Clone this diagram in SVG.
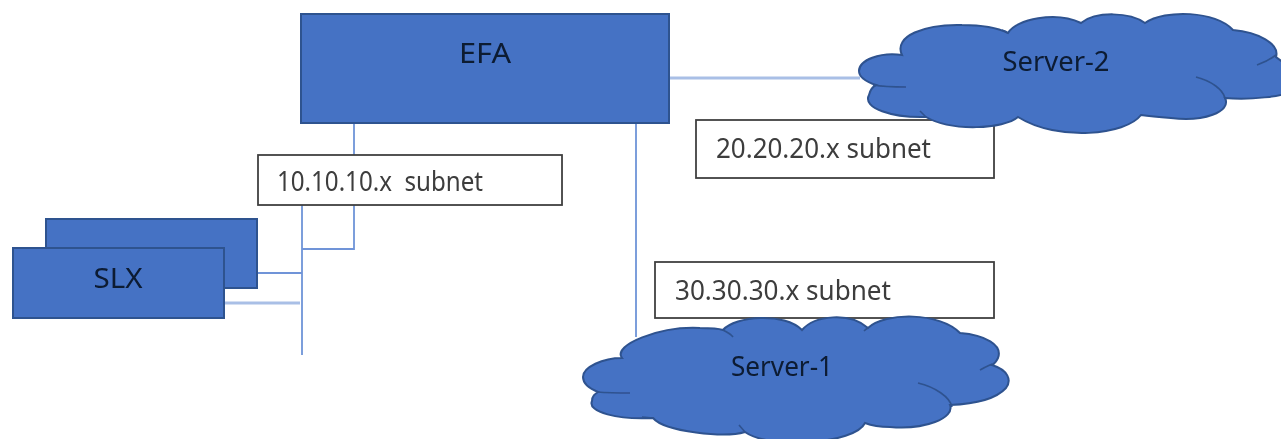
<svg xmlns="http://www.w3.org/2000/svg" width="1281" height="439" viewBox="0 0 1281 439">
<defs><filter id="soft" x="-2%" y="-2%" width="104%" height="104%"><feGaussianBlur stdDeviation="0.55"/></filter></defs>
<style>
.n{fill:#4472c4;stroke:#2f528f;stroke-width:2}
.b{fill:#fff;stroke:#404040;stroke-width:1.8}
.c{fill:none;stroke:#2f528f;stroke-width:1.6}
.w{fill:none;stroke:#6f94d8;stroke-width:1.8}
.p{fill:none;stroke:#a9bfe6;stroke-width:3}
text{font-family:"Noto Sans","Open Sans",sans-serif;font-size:27px}
.l{fill:#3c3c3c}
.t{fill:#0c1a33}
</style>
<rect width="1281" height="439" fill="#fff"/>
<g filter="url(#soft)">
<g id="connectors">
<path class="w" d="M354 123V155M354 205V249H302M302 205V355M258 273H302M636 123V337"/>
<path class="p" d="M225 303H300M670 78H860"/>
</g>
<g id="efa"><rect class="n" x="301" y="14" width="368" height="109"/><text class="t" x="485" y="63" text-anchor="middle" textLength="52" lengthAdjust="spacingAndGlyphs">EFA</text></g>
<g id="slx-back"><rect class="n" x="46" y="219" width="211" height="69"/></g>
<g id="slx"><rect class="n" x="13" y="248" width="211" height="70"/><text class="t" x="118" y="288" text-anchor="middle" textLength="49" lengthAdjust="spacingAndGlyphs">SLX</text></g>
<g id="subnet-10"><rect class="b" x="258" y="155" width="304" height="50"/><text class="l" x="277" y="191" textLength="206" lengthAdjust="spacingAndGlyphs" xml:space="preserve">10.10.10.x  subnet</text></g>
<g id="subnet-20"><rect class="b" x="696" y="120" width="298" height="58"/><text class="l" x="716" y="158" textLength="215" lengthAdjust="spacingAndGlyphs">20.20.20.x subnet</text></g>
<g id="subnet-30"><rect class="b" x="655" y="262" width="339" height="56"/><text class="l" x="675" y="300" textLength="216" lengthAdjust="spacingAndGlyphs">30.30.30.x subnet</text></g>
<g id="server-2">
<path class="n" d="M859 71C859 60 880 52 902 55C893 36 925 24 962 25C982 25 998 28 1008 33C1016 19 1056 11 1081 23C1096 11 1130 12 1145 23C1165 9 1216 11 1233 30C1258 32 1280 44 1276 57L1296 72V90C1282 97 1250 100 1225 98C1232 112 1203 122 1171 118C1158 117 1148 116 1141 115C1126 135 1058 142 1018 117C1004 129 952 132 926 117C892 118 862 108 869 95C870 91 872 87 876 85C864 81 859 76 859 71Z"/>
<path class="c" d="M1257 65C1265 62 1272 58 1276 55M1196 77C1212 81 1223 90 1225 98M873 85C885 87 895 87 906 87M1002 30C1005 31 1007 32 1008 33M926 117L920 111"/>
<text class="t" x="1056" y="71" text-anchor="middle" textLength="107" lengthAdjust="spacingAndGlyphs">Server-2</text>
</g>
<g id="server-1">
<path class="n" d="M583 377C583 367 603 358 622 358C612 345 660 326 700 328C712 328 720 329 723 330C735 316 785 312 802 330C815 315 850 312 868 328C885 312 940 312 960 333C985 335 1003 345 998 358C996 362 994 364 992 365C1008 370 1012 380 1006 388C995 400 975 404 950 405C955 418 925 430 890 427C878 427 870 425 865 423C855 444 770 450 745 432C725 438 665 432 653 418C618 420 587 412 592 401C592 396 595 394 598 392C588 388 583 383 583 377Z"/>
<path class="c" d="M980 370C985 367 990 365 992 364M918 383C935 387 950 397 952 407M597 392C610 393 620 393 630 393M723 330C727 332 731 334 733 337M868 328C866 329 864 331 864 331M745 432L739 425M653 418L642 417"/>
<text class="t" x="782" y="376" text-anchor="middle" textLength="102" lengthAdjust="spacingAndGlyphs">Server-1</text>
</g>
</g>
</svg>
